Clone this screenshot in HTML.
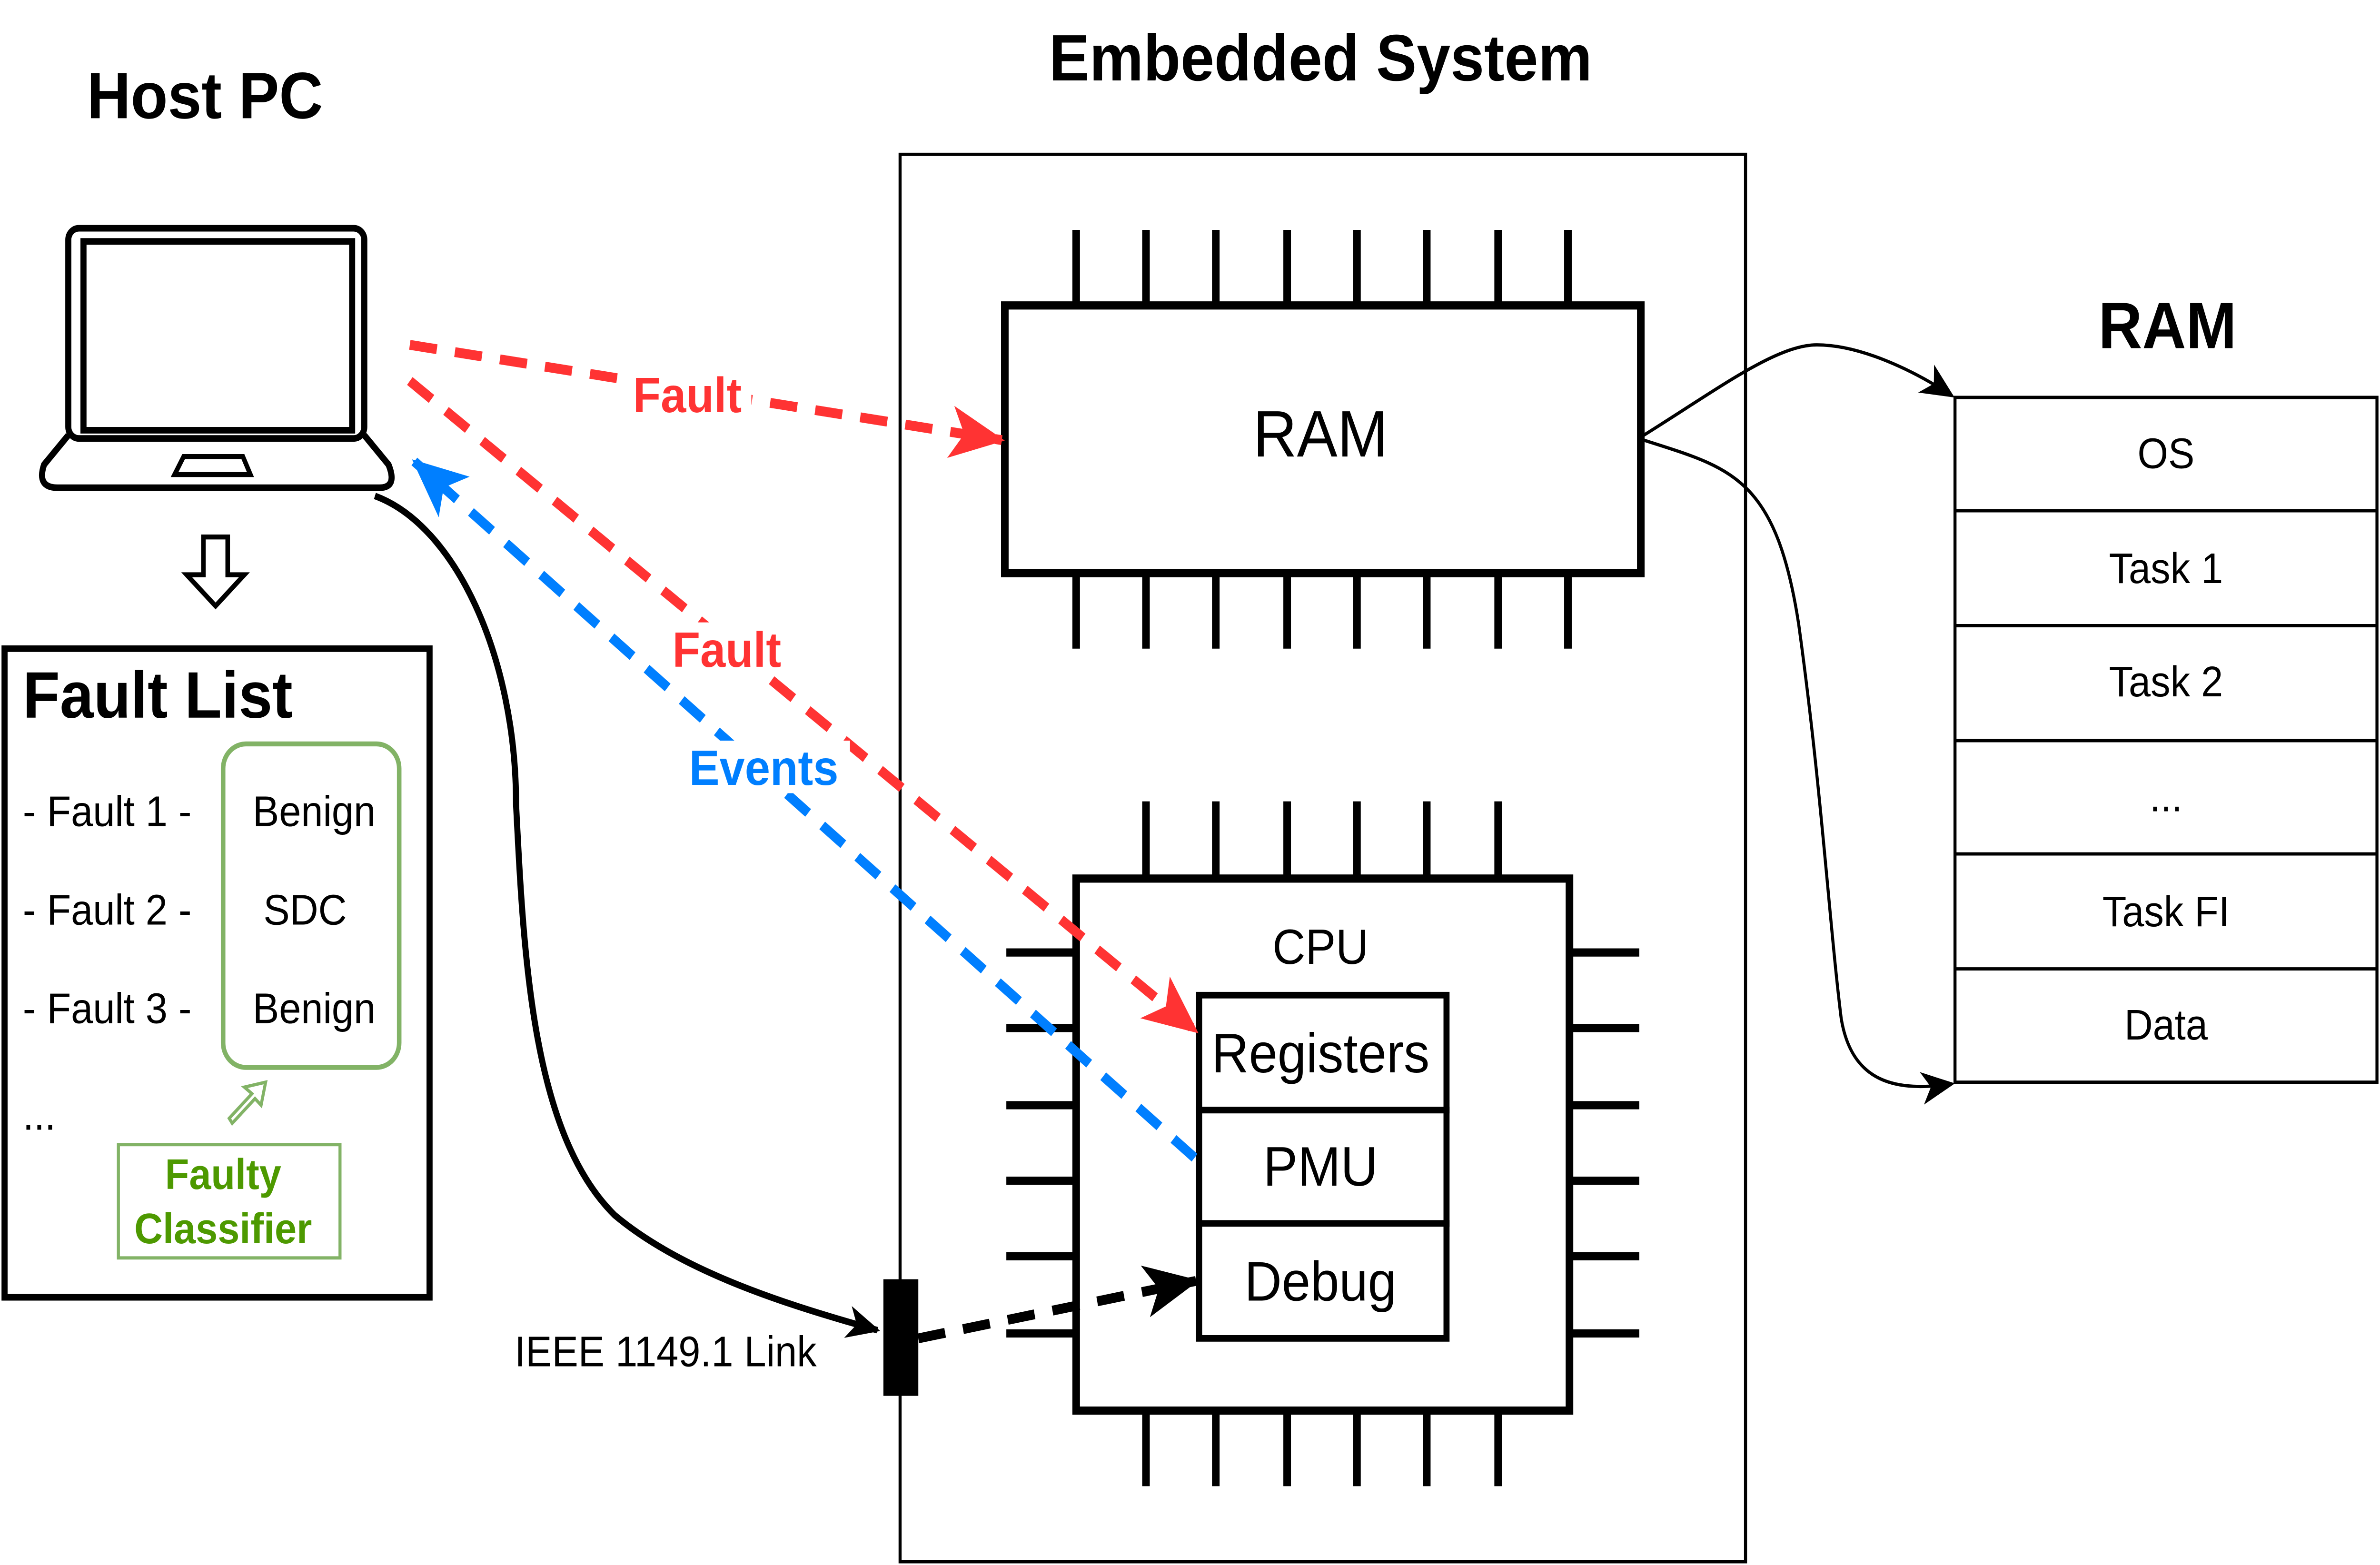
<!DOCTYPE html>
<html><head><meta charset="utf-8"><style>
html,body{margin:0;padding:0;background:#fff;overflow:hidden;width:100%;height:100%;}
svg{display:block;position:fixed;left:0;top:0;width:100vw;height:100vh;}
text{font-family:"Liberation Sans",sans-serif;}
</style></head><body>
<svg viewBox="0 0 1568 953" preserveAspectRatio="none" xmlns="http://www.w3.org/2000/svg">
<defs>
<marker id="ak2" markerWidth="24" markerHeight="24" refX="20" refY="12" orient="auto" markerUnits="userSpaceOnUse" viewBox="0 0 24 24"><path d="M0,2 L22,12 L0,22 L6,12 Z" fill="#000"/></marker>
<marker id="ar2" markerWidth="36" markerHeight="36" refX="34" refY="18" orient="auto" markerUnits="userSpaceOnUse" viewBox="0 0 36 36"><path d="M0,2 L36,18 L0,34 L9,18 Z" fill="#ff3333"/></marker>
<marker id="ab2" markerWidth="36" markerHeight="36" refX="34" refY="18" orient="auto" markerUnits="userSpaceOnUse" viewBox="0 0 36 36"><path d="M0,2 L36,18 L0,34 L9,18 Z" fill="#007fff"/></marker>
<marker id="ak3" markerWidth="36" markerHeight="36" refX="34" refY="18" orient="auto" markerUnits="userSpaceOnUse" viewBox="0 0 36 36"><path d="M0,2 L36,18 L0,34 L9,18 Z" fill="#000"/></marker>
</defs>

<text x="135" y="72" font-size="40" font-weight="bold" text-anchor="middle">Host PC</text>
<text x="870" y="49" font-size="40" font-weight="bold" text-anchor="middle">Embedded System</text>

<rect x="45" y="139" width="195" height="128" rx="7" fill="none" stroke="#000" stroke-width="4"/>
<rect x="55" y="147" width="177" height="115" fill="none" stroke="#000" stroke-width="4"/>
<path d="M45,265 L29,283 Q24,297 38,297 L250,297 Q262,297 256,283 L240,265" fill="none" stroke="#000" stroke-width="4" stroke-linejoin="round"/>
<path d="M115,289 L121,278 L160,278 L165,289 Z" fill="none" stroke="#000" stroke-width="3"/>

<path d="M134,327 L150,327 L150,350 L161,350 L142,369 L123,350 L134,350 Z" fill="#fff" stroke="#000" stroke-width="3"/>

<rect x="3" y="395" width="280" height="395" fill="none" stroke="#000" stroke-width="4"/>
<text x="15" y="437" font-size="40" font-weight="bold">Fault List</text>
<g font-size="26">
<text x="15" y="503">- Fault 1 -</text>
<text x="15" y="563">- Fault 2 -</text>
<text x="15" y="623">- Fault 3 -</text>
<text x="15" y="688">...</text>
<text x="207" y="503" text-anchor="middle">Benign</text>
<text x="201" y="563" text-anchor="middle">SDC</text>
<text x="207" y="623" text-anchor="middle">Benign</text>
</g>
<rect x="147" y="453" width="116" height="197" rx="15" fill="none" stroke="#82b366" stroke-width="3"/>
<path d="M151,681 L166,666 L161,662 L175,659 L172,673 L168,669 L153,684 Z" fill="#fff" stroke="#82b366" stroke-width="2"/>
<rect x="78" y="697" width="146" height="69" fill="#fff" stroke="#82b366" stroke-width="2"/>
<text x="147" y="724" font-size="26" font-weight="bold" fill="#4d9900" text-anchor="middle">Faulty</text>
<text x="147" y="757" font-size="26" font-weight="bold" fill="#4d9900" text-anchor="middle">Classifier</text>

<rect x="593" y="94" width="557" height="857" fill="none" stroke="#000" stroke-width="2"/>

<g stroke="#000" stroke-width="5">
<path d="M709,140V186M755,140V186M801,140V186M848,140V186M894,140V186M940,140V186M987,140V186M1033,140V186"/>
<path d="M709,349V395M755,349V395M801,349V395M848,349V395M894,349V395M940,349V395M987,349V395M1033,349V395"/>
<rect x="662" y="186" width="419" height="163" fill="#fff"/>
</g>
<text x="870" y="278" font-size="40" text-anchor="middle">RAM</text>

<g stroke="#000" stroke-width="5">
<path d="M755,488V535M801,488V535M848,488V535M894,488V535M940,488V535M987,488V535"/>
<path d="M755,859V905M801,859V905M848,859V905M894,859V905M940,859V905M987,859V905"/>
<path d="M663,580H709M663,626H709M663,673H709M663,719H709M663,765H709M663,812H709"/>
<path d="M1034,580H1080M1034,626H1080M1034,673H1080M1034,719H1080M1034,765H1080M1034,812H1080"/>
<rect x="709" y="535" width="325" height="324" fill="none"/>
</g>
<text x="870" y="587" font-size="30" text-anchor="middle">CPU</text>
<g stroke="#000" stroke-width="4" fill="#fff">
<rect x="790" y="606" width="163" height="70"/>
<rect x="790" y="676" width="163" height="69"/>
<rect x="790" y="745" width="163" height="70"/>
</g>
<g font-size="34" text-anchor="middle">
<text x="870" y="653">Registers</text>
<text x="870" y="722">PMU</text>
<text x="870" y="792">Debug</text>
</g>

<path d="M247,302 C300,320 340,400 340,490 C345,580 350,690 405,740 C450,775 520,795 578,810" fill="none" stroke="#000" stroke-width="4" marker-end="url(#ak2)"/>
<rect x="582" y="779" width="23" height="71" fill="#000"/>
<text x="538" y="832" font-size="26" text-anchor="end">IEEE 1149.1 Link</text>
<path d="M605,815 L788,780" fill="none" stroke="#000" stroke-width="6" stroke-dasharray="18,12" marker-end="url(#ak3)"/>

<path d="M270,210 L660,268" fill="none" stroke="#ff3333" stroke-width="6" stroke-dasharray="18,12" marker-end="url(#ar2)"/>
<path d="M270,232 L788,628" fill="none" stroke="#ff3333" stroke-width="6" stroke-dasharray="18,12" marker-end="url(#ar2)"/>
<path d="M787,705 L273,281" fill="none" stroke="#007fff" stroke-width="6" stroke-dasharray="18,12" marker-end="url(#ab2)"/>

<rect x="415" y="224" width="80" height="32" fill="#fff"/>
<text x="417" y="251" font-size="30" font-weight="bold" fill="#ff3333">Fault</text>
<rect x="441" y="379" width="80" height="32" fill="#fff"/>
<text x="443" y="406" font-size="30" font-weight="bold" fill="#ff3333">Fault</text>
<rect x="452" y="451" width="108" height="32" fill="#fff"/>
<text x="454" y="478" font-size="30" font-weight="bold" fill="#007fff">Events</text>

<text x="1428" y="212" font-size="40" font-weight="bold" text-anchor="middle">RAM</text>
<g stroke="#000" stroke-width="2" fill="#fff">
<rect x="1288" y="242" width="278" height="417"/>
<path d="M1288,311H1566M1288,381H1566M1288,451H1566M1288,520H1566M1288,590H1566"/>
</g>
<g font-size="26" text-anchor="middle">
<text x="1427" y="285">OS</text>
<text x="1427" y="355">Task 1</text>
<text x="1427" y="424">Task 2</text>
<text x="1427" y="494">...</text>
<text x="1427" y="564">Task FI</text>
<text x="1427" y="633">Data</text>
</g>
<path d="M1083,265 C1130,238 1170,210 1197,210 C1225,210 1260,225 1286,241" fill="none" stroke="#000" stroke-width="2" marker-end="url(#ak2)"/>
<path d="M1083,268 C1140,285 1170,290 1185,380 C1200,480 1205,560 1213,620 C1220,660 1250,665 1286,660" fill="none" stroke="#000" stroke-width="2" marker-end="url(#ak2)"/>
</svg>
</body></html>
